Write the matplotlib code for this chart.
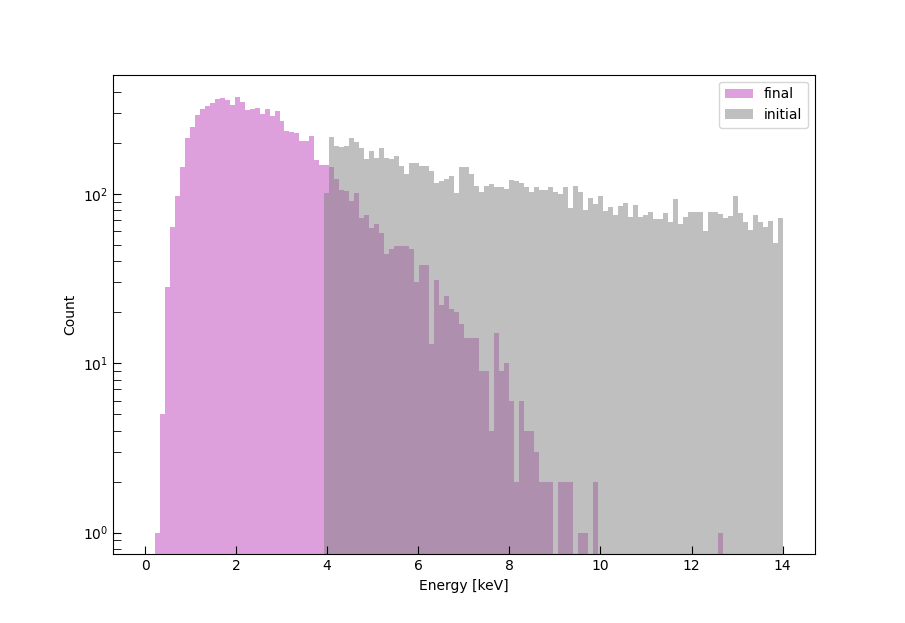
import numpy as np
import matplotlib
matplotlib.use("Agg")
import matplotlib.pyplot as plt

# 128 bins from 0 to 14 keV
n_bins = 128
e_min, e_max = 0.0, 14.0

final_counts = [
    0, 0, 1, 5, 28, 64, 97, 144, 214, 249,
    293, 318, 332, 345, 365, 370, 360, 336, 375, 350,
    314, 318, 323, 297, 318, 289, 310, 270, 236, 233,
    230, 206, 206, 220, 159, 148, 148, 144, 123, 106,
    104, 91, 101, 72, 75, 63, 66, 59, 44, 47,
    49, 49, 49, 47, 30, 38, 38, 13, 31, 22,
    25, 21, 20, 17, 14, 14, 14, 9, 9, 4,
    15, 9, 10, 6, 2, 6, 4, 4, 3, 2,
    2, 2, 0, 2, 2, 2, 0, 1, 1, 0,
    2, 0, 0, 0, 0, 0, 0, 0, 0, 0,
    0, 0, 0, 0, 0, 0, 0, 0, 0, 0,
    0, 0, 0, 0, 0, 1, 0, 0, 0, 0,
    0, 0, 0, 0, 0, 0, 0, 0,
]

initial_counts = [0] * 36 + [
    101, 217, 192, 190, 192, 214, 203, 187, 161, 180,
    163, 187, 163, 161, 168, 146, 131, 151, 151, 146,
    146, 137, 116, 119, 123, 128, 101, 144, 144, 131,
    111, 103, 111, 115, 109, 110, 107, 121, 119, 116,
    109, 103, 109, 106, 106, 110, 103, 100, 109, 83,
    111, 103, 80, 95, 87, 97, 79, 84, 75, 85,
    88, 73, 86, 73, 75, 78, 71, 71, 77, 68,
    93, 66, 73, 78, 78, 78, 60, 78, 78, 76,
    72, 74, 97, 77, 68, 61, 75, 68, 64, 69,
    51, 72,
]

edges = np.linspace(e_min, e_max, n_bins + 1)
centers = 0.5 * (edges[:-1] + edges[1:])

fig, ax = plt.subplots(figsize=(9.05, 6.23), dpi=100)

ax.hist(centers, bins=edges, weights=final_counts, color="plum",
        label="final", log=True)
ax.hist(centers, bins=edges, weights=initial_counts, color="gray",
        alpha=0.5, label="initial", log=True)

ax.set_xlabel("Energy [keV]")
ax.set_ylabel("Count")
ax.tick_params(which="both", direction="in", length=6)
ax.legend(loc="upper right")

fig.savefig("out.png", dpi=100)
